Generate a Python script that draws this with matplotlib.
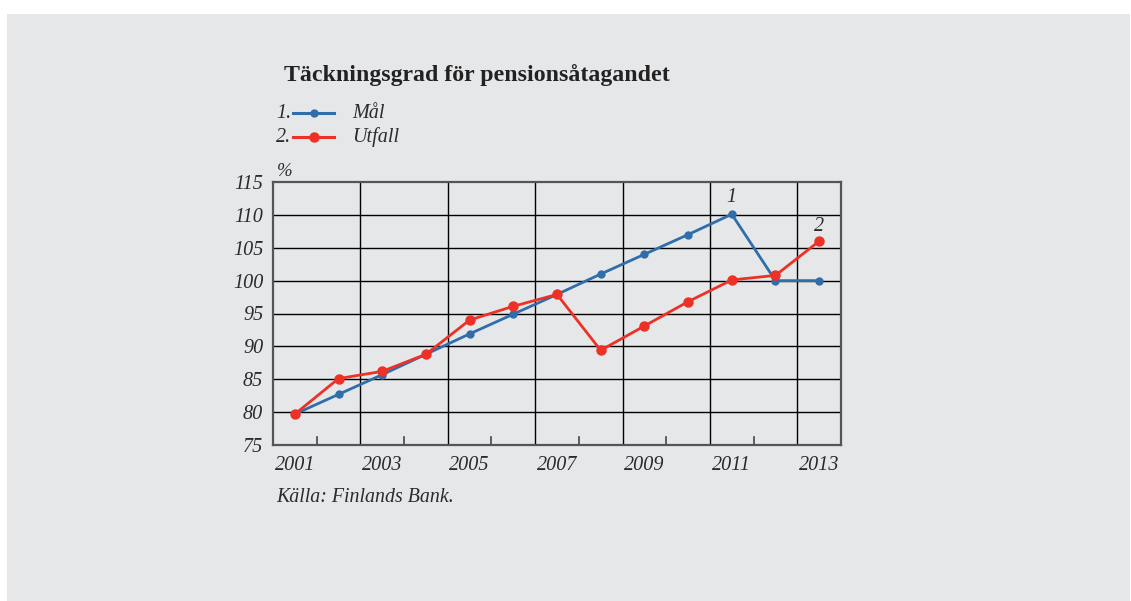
"""Täckningsgrad för pensionsåtagandet: Mål vs Utfall, 2001-2013."""

import matplotlib.pyplot as plt
from matplotlib.patches import Rectangle

years = [2001, 2002, 2003, 2004, 2005, 2006, 2007, 2008, 2009, 2010, 2011, 2012, 2013]
mal = [79.7, 82.7, 85.7, 88.8, 91.9, 94.9, 97.9, 101.0, 104.0, 107.0, 110.1, 100.0, 100.0]
utfall = [79.7, 85.1, 86.2, 88.8, 94.0, 96.1, 97.9, 89.4, 93.1, 96.8, 100.1, 100.8, 106.0]
y_ticks = [75, 80, 85, 90, 95, 100, 105, 110, 115]
x_labels = [2001, 2003, 2005, 2007, 2009, 2011, 2013]

BLUE = "#2f6eab"
RED = "#ee3126"
BG = "#e6e7e9"
TXT = "#2b2b2b"
SERIF = ["Liberation Serif", "DejaVu Serif"]

plt.rcParams["font.family"] = SERIF

fig = plt.figure(figsize=(11.31, 6.01), dpi=100)
fig.patches.append(Rectangle((7 / 1131, 0), 1123 / 1131, 1 - 14 / 601,
                             transform=fig.transFigure, facecolor=BG,
                             edgecolor="none", zorder=-10))

ax = fig.add_axes([273 / 1131, 1 - 445 / 601, 568 / 1131, 263 / 601])
ax.set_facecolor(BG)

ax.set_xlim(2000.5, 2013.5)
ax.set_ylim(75, 115)

# grid: vertical every two years between labels, horizontal every 5 %
for x in [2002.5, 2004.5, 2006.5, 2008.5, 2010.5, 2012.5]:
    ax.axvline(x, color="black", lw=1.0, zorder=1)
for y in y_ticks[1:-1]:
    ax.axhline(y, color="black", lw=1.0, zorder=1)

# small ticks from the bottom edge
for x in [2001.5, 2003.5, 2005.5, 2007.5, 2009.5, 2011.5]:
    ax.plot([x, x], [75, 76.2], color="#444444", lw=1.2, zorder=1)

for s in ax.spines.values():
    s.set_color("#555555")
    s.set_linewidth(1.6)

ax.set_yticks(y_ticks)
ax.set_xticks(x_labels)
ax.tick_params(length=0, labelsize=14.5, pad=7)
ax.tick_params(axis="x", pad=8)
for lab in ax.get_xticklabels() + ax.get_yticklabels():
    lab.set_fontstyle("italic")
    lab.set_color(TXT)

ax.plot(years, mal, color=BLUE, lw=2.0, marker="o", ms=5, zorder=3, clip_on=False)
ax.plot(years, utfall, color=RED, lw=2.0, marker="o", ms=6.5, zorder=4, clip_on=False)

ax.annotate("1", (2011, 110.1), xytext=(0, 5), textcoords="offset points",
            ha="center", va="bottom", fontsize=14.5, fontstyle="italic", color=TXT)
ax.annotate("2", (2013, 106.0), xytext=(0, 4), textcoords="offset points",
            ha="center", va="bottom", fontsize=14.5, fontstyle="italic", color=TXT)


# title, legend and texts in figure pixels
def fx(px):
    return px / 1131


def fy(py):
    return 1 - py / 601


fig.text(fx(284), fy(75), "Täckningsgrad för pensionsåtagandet", fontsize=17.2,
         fontweight="bold", va="center", ha="left", color="#222222")

for i, (lbl, color, ms) in enumerate([("Mål", BLUE, 5), ("Utfall", RED, 6.5)]):
    yy = fy(113 + 24 * i)
    fig.text(fx(276), yy, f"{i + 1}.", fontsize=14.5, fontstyle="italic",
             va="center", ha="left", color=TXT)
    fig.add_artist(plt.Line2D([fx(293), fx(334)], [yy, yy], color=color, lw=2.2,
                              transform=fig.transFigure))
    fig.add_artist(plt.Line2D([fx(313.5)], [yy], color=color, marker="o", ms=ms,
                              transform=fig.transFigure))
    fig.text(fx(352), yy, lbl, fontsize=14.5, fontstyle="italic",
             va="center", ha="left", color=TXT)

fig.text(fx(277), fy(171), "%", fontsize=13.5, fontstyle="italic",
         va="center", ha="left", color=TXT)
fig.text(fx(276), fy(497), "Källa: Finlands Bank.", fontsize=14.3, fontstyle="italic",
         va="center", ha="left", color=TXT)

fig.savefig("out.png", dpi=100, facecolor="white")
